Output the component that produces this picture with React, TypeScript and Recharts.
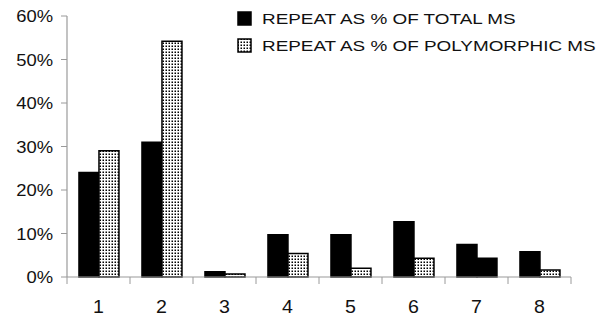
import React from 'react';
import { BarChart, Bar, XAxis, YAxis, Legend, Cell } from 'recharts';

const categories = ['1', '2', '3', '4', '5', '6', '7', '8'];
const totalMs = [24, 31, 1.2, 9.7, 9.7, 12.7, 7.5, 5.8];
const polyMs = [29, 54.2, 0.7, 5.4, 2, 4.3, 4.3, 1.6];
const yTicks = [0, 10, 20, 30, 40, 50, 60];
const seriesNames = ['REPEAT AS % OF TOTAL MS', 'REPEAT AS % OF POLYMORPHIC MS'];
const solidPolyIndex = [6];

const data = categories.map((c, i) => ({ cat: c, total: totalMs[i], poly: polyMs[i] }));

const W = 608;
const H = 318;
const M = { top: 16, right: 37, bottom: 0, left: 0 };
const YW = 67;
const XH = 41;
const FONT = '"Liberation Sans", Arial, sans-serif';
const AXIS_COLOR = '#9a9a9a';

const plotW = W - M.left - M.right - YW;
const halfBand = plotW / categories.length / 2;

const XTick = (props: any) => {
  const { x, y, payload, index } = props;
  const last = index === categories.length - 1;
  return (
    <g>
      <line x1={x - halfBand} x2={x - halfBand} y1={y} y2={y + 7} stroke={AXIS_COLOR} strokeWidth={1} />
      {last && <line x1={x + halfBand} x2={x + halfBand} y1={y} y2={y + 7} stroke={AXIS_COLOR} strokeWidth={1} />}
      <g transform={`translate(${x},${y + 36}) scale(1.12,1)`}>
        <text x={0} y={0} textAnchor="middle" fontFamily={FONT} fontSize={17.5} fill="#111">
          {payload.value}
        </text>
      </g>
    </g>
  );
};

const YTick = (props: any) => {
  const { x, y, payload } = props;
  return (
    <g transform={`translate(${x - 6},${y + 6}) scale(1.15,1)`}>
      <text x={0} y={0} textAnchor="end" fontFamily={FONT} fontSize={16} fill="#111">
        {`${payload.value}%`}
      </text>
    </g>
  );
};

const LegendContent = (props: any) => {
  const items = [...(props.payload || [])].sort(
    (a: any, b: any) => seriesNames.indexOf(a.value) - seriesNames.indexOf(b.value)
  );
  return (
    <svg width={370} height={45} style={{ display: 'block', overflow: 'visible' }}>
      {items.map((p: any, i: number) => (
        <g key={i}>
          <rect
            x={1}
            y={1 + i * 27}
            width={13}
            height={13}
            fill={i === 0 ? '#000' : 'url(#dots)'}
            stroke="#000"
            strokeWidth={1.5}
          />
          <g transform={`translate(25,${13 + i * 27}) scale(1.22,1)`}>
            <text x={0} y={0} fontFamily={FONT} fontSize={15.5} fill="#111">
              {p.value}
            </text>
          </g>
        </g>
      ))}
    </svg>
  );
};

export default function App() {
  return (
    <div style={{ position: 'absolute', left: 0, top: 0, width: W, height: H, background: '#fff' }}>
      <BarChart width={W} height={H} data={data} margin={M} barCategoryGap="19%" barGap={0}>
        <defs>
          <pattern id="dots" x={0} y={0} width={3} height={3} patternUnits="userSpaceOnUse">
            <rect x={0} y={0} width={3} height={3} fill="#fff" />
            <rect x={0.5} y={0.5} width={1.5} height={1.5} fill="#000" />
          </pattern>
        </defs>
        <XAxis
          dataKey="cat"
          height={XH}
          tickLine={false}
          tickSize={0}
          tickMargin={0}
          axisLine={{ stroke: AXIS_COLOR, strokeWidth: 1.2 }}
          tick={<XTick />}
          interval={0}
        />
        <YAxis
          width={YW}
          domain={[0, 60]}
          ticks={yTicks}
          tickLine={{ stroke: AXIS_COLOR, strokeWidth: 1 }}
          tickSize={6}
          axisLine={{ stroke: AXIS_COLOR, strokeWidth: 1.2 }}
          tick={<YTick />}
          interval={0}
        />
        <Legend
          layout="vertical"
          align="center"
          verticalAlign="middle"
          wrapperStyle={{ left: 237, top: 11 }}
          content={<LegendContent />}
        />
        <Bar dataKey="total" name={seriesNames[0]} fill="#000" stroke="#000" strokeWidth={1.5} isAnimationActive={false} />
        <Bar dataKey="poly" name={seriesNames[1]} fill="url(#dots)" stroke="#000" strokeWidth={1.5} isAnimationActive={false}>
          {data.map((_, i) => (
            <Cell key={i} fill={solidPolyIndex.includes(i) ? '#000' : 'url(#dots)'} />
          ))}
        </Bar>
      </BarChart>
    </div>
  );
}
